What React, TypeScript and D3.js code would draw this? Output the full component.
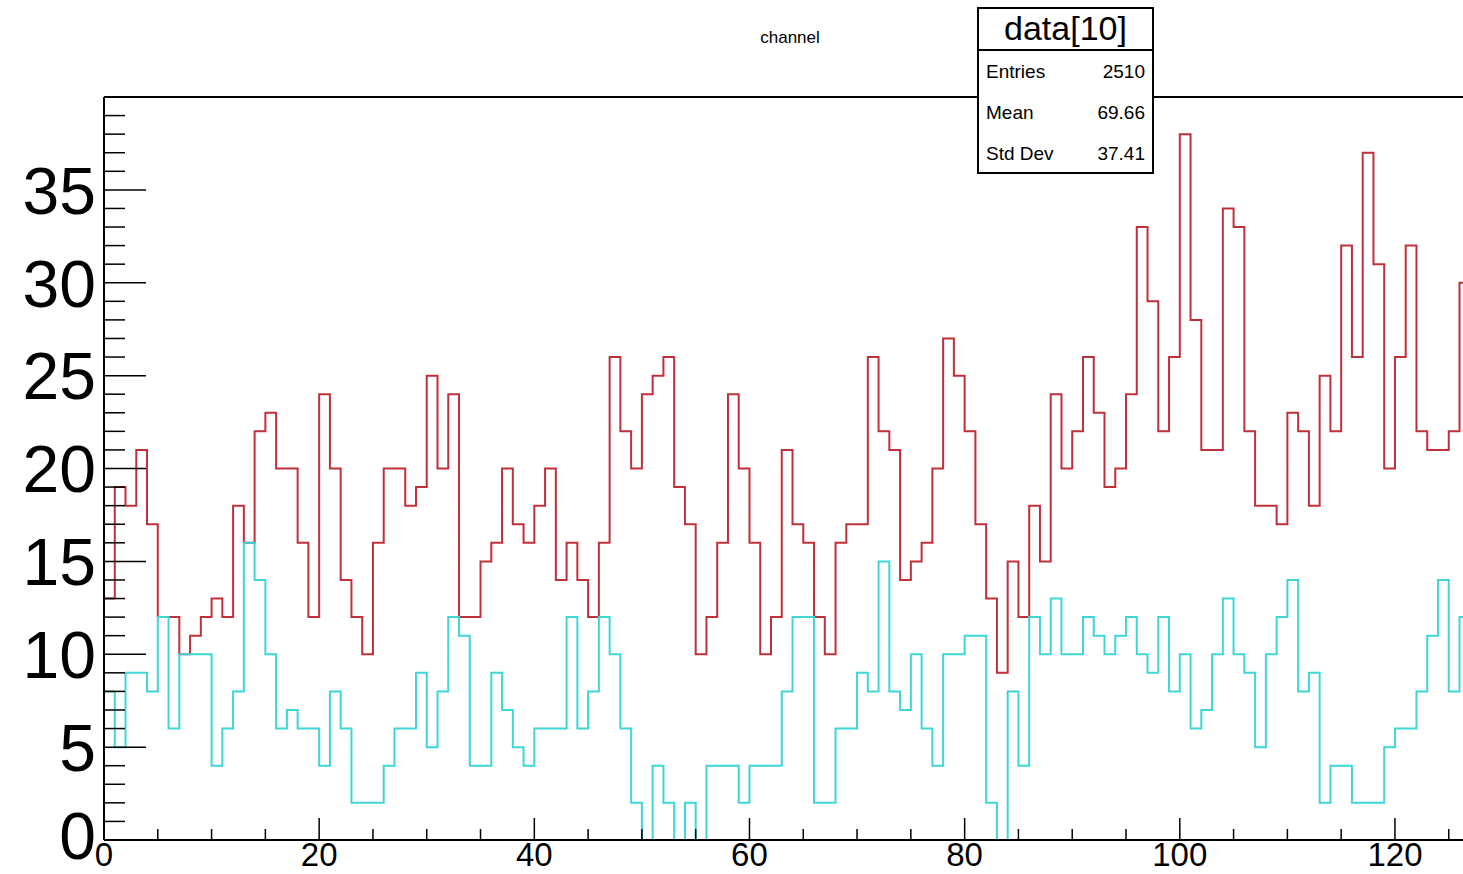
import React from "react";
import * as d3 from "d3";

const redCounts = [
  13, 19, 18, 21, 17, 12, 12, 10, 11, 12,
  13, 12, 18, 16, 22, 23, 20, 20, 16, 12,
  24, 20, 14, 12, 10, 16, 20, 20, 18, 19,
  25, 20, 24, 12, 12, 15, 16, 20, 17, 16,
  18, 20, 14, 16, 14, 12, 16, 26, 22, 20,
  24, 25, 26, 19, 17, 10, 12, 16, 24, 20,
  16, 10, 12, 21, 17, 16, 12, 10, 16, 17,
  17, 26, 22, 21, 14, 15, 16, 20, 27, 25,
  22, 17, 13, 9, 15, 12, 18, 15, 24, 20,
  22, 26, 23, 19, 20, 24, 33, 29, 22, 26,
  38, 28, 21, 21, 34, 33, 22, 18, 18, 17,
  23, 22, 18, 25, 22, 32, 26, 37, 31, 20,
  26, 32, 22, 21, 21, 22, 30,
];

const cyanCounts = [
  8, 5, 9, 9, 8, 12, 6, 10, 10, 10,
  4, 6, 8, 16, 14, 10, 6, 7, 6, 6,
  4, 8, 6, 2, 2, 2, 4, 6, 6, 9,
  5, 8, 12, 11, 4, 4, 9, 7, 5, 4,
  6, 6, 6, 12, 6, 8, 12, 10, 6, 2,
  0, 4, 2, 0, 2, 0, 4, 4, 4, 2,
  4, 4, 4, 8, 12, 12, 2, 2, 6, 6,
  9, 8, 15, 8, 7, 10, 6, 4, 10, 10,
  11, 11, 2, 0, 8, 4, 12, 10, 13, 10,
  10, 12, 11, 10, 11, 12, 10, 9, 12, 8,
  10, 6, 7, 10, 13, 10, 9, 5, 10, 12,
  14, 8, 9, 2, 4, 4, 2, 2, 2, 5,
  6, 6, 8, 11, 14, 8, 12,
];

const xTickLabels = [0, 20, 40, 60, 80, 100, 120];
const yTickLabels = [0, 5, 10, 15, 20, 25, 30, 35];
const histTitle = "channel";
const statsName = "data[10]";
const statsRows = [
  ["Entries", "2510"],
  ["Mean", "69.66"],
  ["Std Dev", "37.41"],
];

const W = 1463;
const H = 874;
const left = 104;
const bottom = 840;
const top = 97;
const nBins = 128;
const pxPerUnit = 10.758;

const x = d3.scaleLinear().domain([0, nBins]).range([left, left + nBins * pxPerUnit]);
const y = d3.scaleLinear().domain([0, 40]).range([bottom, top]);

function stepPath(vals: number[]): string {
  const pts: [number, number][] = [[0, 0]];
  vals.forEach((v, i) => pts.push([i, v]));
  pts.push([vals.length, vals[vals.length - 1]]);
  const line = d3
    .line<[number, number]>()
    .x((d) => x(d[0]))
    .y((d) => y(d[1]))
    .curve(d3.curveStepAfter);
  return line(pts) || "";
}

export default function App() {
  const font = "'Liberation Sans', Arial, Helvetica, sans-serif";
  const yMinor = d3.range(0, 41, 1);
  const xMinor = d3.range(0, nBins + 1, 5);
  const ySize = 66;
  return (
    <svg
      width={W}
      height={H}
      style={{ position: "absolute", left: 0, top: 0, background: "#fff" }}
      fontFamily={font}
    >
      <rect x={0} y={0} width={W} height={H} fill="#fff" />
      <text x={790} y={43} fontSize={17} textAnchor="middle" fill="#000">
        {histTitle}
      </text>

      <path d={stepPath(redCounts)} fill="none" stroke="#c0303a" strokeWidth={2} />
      <path d={stepPath(cyanCounts)} fill="none" stroke="#3fd6d6" strokeWidth={2} />

      {/* frame */}
      <line x1={left} y1={top} x2={W + 20} y2={top} stroke="#000" strokeWidth={2} />
      <line x1={left} y1={top} x2={left} y2={bottom} stroke="#000" strokeWidth={2} />
      <line x1={left} y1={bottom} x2={W + 20} y2={bottom} stroke="#000" strokeWidth={2} />

      {/* y ticks */}
      {yMinor.map((v) => (
        <line
          key={"yt" + v}
          x1={left}
          x2={left + (v % 5 === 0 ? 42 : 21)}
          y1={y(v)}
          y2={y(v)}
          stroke="#000"
          strokeWidth={1.5}
        />
      ))}
      {yTickLabels.map((v) => (
        <text
          key={"yl" + v}
          x={96}
          y={Math.min(y(v) + 0.36 * ySize, 859)}
          fontSize={ySize}
          textAnchor="end"
          fill="#000"
        >
          {v}
        </text>
      ))}

      {/* x ticks */}
      {xMinor.map((v) => (
        <line
          key={"xt" + v}
          x1={x(v)}
          x2={x(v)}
          y1={bottom}
          y2={bottom - (v % 20 === 0 ? 22 : 11)}
          stroke="#000"
          strokeWidth={1.5}
        />
      ))}
      {xTickLabels.map((v) => (
        <text
          key={"xl" + v}
          x={x(v)}
          y={866}
          fontSize={33}
          textAnchor="middle"
          fill="#000"
        >
          {v}
        </text>
      ))}

      {/* stats box */}
      <rect x={978} y={8} width={175} height={165} fill="#fff" stroke="#000" strokeWidth={2} />
      <line x1={978} x2={1153} y1={50} y2={50} stroke="#000" strokeWidth={2} />
      <text x={1065.5} y={40} fontSize={34} textAnchor="middle" fill="#000">
        {statsName}
      </text>
      {statsRows.map((r, i) => (
        <g key={r[0]}>
          <text x={986} y={78 + i * 41} fontSize={19} fill="#000">
            {r[0]}
          </text>
          <text x={1145} y={78 + i * 41} fontSize={19} textAnchor="end" fill="#000">
            {r[1]}
          </text>
        </g>
      ))}
    </svg>
  );
}
